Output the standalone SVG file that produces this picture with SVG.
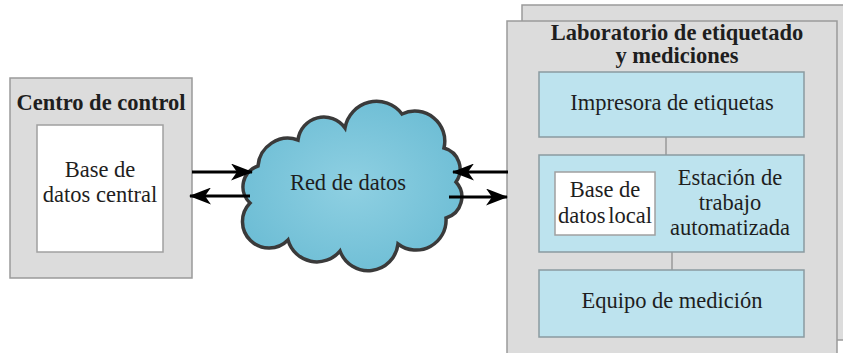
<svg xmlns="http://www.w3.org/2000/svg" width="843" height="353" viewBox="0 0 843 353">
<style>
.t{font-family:'Liberation Serif','Times New Roman',serif;font-size:22.5px;fill:#1e1e1e;text-anchor:middle}
.b{font-weight:bold}
.gray{fill:#dcdcdc;stroke:#9a9a9a;stroke-width:1.5}
.white{fill:#ffffff;stroke:#a0a0a0;stroke-width:1.5}
.blue{fill:#bde3ee;stroke:#8a9aa0;stroke-width:1.5}
.arr{stroke:#000;stroke-width:3;fill:none}
.link{stroke:#9a9a9a;stroke-width:1.5}
</style>
<defs>
<marker id="ah" viewBox="0 0 22 17" refX="21" refY="8.5" markerWidth="22" markerHeight="17" markerUnits="userSpaceOnUse" orient="auto">
<path d="M0,0 L22,8.5 L0,17 L6,8.5 Z" fill="#000"/>
</marker>
<radialGradient id="cg" cx="0.5" cy="0.5" r="0.6">
<stop offset="0" stop-color="#8fd0e2"/>
<stop offset="1" stop-color="#6bbcd4"/>
</radialGradient>
</defs>
<rect width="843" height="353" fill="#ffffff"/>
<g id="centro-control">
<rect class="gray" x="10" y="78" width="182" height="200"/>
<text class="t b" x="101" y="110">Centro de control</text>
</g>
<g id="base-central">
<rect class="white" x="37" y="125" width="126" height="127"/>
<text class="t" x="100" y="177">Base de</text>
<text class="t" x="100" y="202">datos central</text>
</g>
<g id="red-datos">
<path d="M250,203 A22,22 0 0 1 258,166 A30,30 0 0 1 298,140 A26,26 0 0 1 345,128 A32,32 0 0 1 402,114 A30,30 0 0 1 444,148 A22,22 0 0 1 456,182 A22,22 0 0 1 446,218 A30,30 0 0 1 398,244 A30,30 0 0 1 340,251 A30,30 0 0 1 288,240 A26,26 0 0 1 250,203 Z" fill="url(#cg)" stroke="#3a3a3a" stroke-width="3.5"/>
<text class="t" x="348" y="190">Red de datos</text>
</g>
<g id="laboratorio">
<rect class="gray" x="522" y="5" width="330" height="335"/>
<rect class="gray" x="507" y="21" width="330" height="340"/>
<text class="t b" x="677" y="40">Laboratorio de etiquetado</text>
<text class="t b" x="677" y="63">y mediciones</text>
</g>
<g id="connectors">
<line class="arr" x1="192" y1="172" x2="252" y2="172" marker-end="url(#ah)"/>
<line class="arr" x1="250" y1="196" x2="190" y2="196" marker-end="url(#ah)"/>
<line class="arr" x1="508" y1="172" x2="453" y2="172" marker-end="url(#ah)"/>
<line class="arr" x1="449" y1="197" x2="507" y2="197" marker-end="url(#ah)"/>
<line class="link" x1="666" y1="137" x2="666" y2="155"/>
<line class="link" x1="672" y1="252" x2="672" y2="270"/>
</g>
<g id="impresora">
<rect class="blue" x="539" y="72" width="265" height="65"/>
<text class="t" x="672" y="110">Impresora de etiquetas</text>
</g>
<g id="estacion">
<rect class="blue" x="539" y="155" width="265" height="97"/>
<text class="t" x="730" y="185">Estación de</text>
<text class="t" x="730" y="210">trabajo</text>
<text class="t" x="730" y="235">automatizada</text>
</g>
<g id="base-local">
<rect class="white" x="555" y="172" width="100" height="63"/>
<text class="t" x="605" y="197">Base de</text>
<text class="t" x="605" y="223" word-spacing="-3">datos local</text>
</g>
<g id="equipo">
<rect class="blue" x="539" y="270" width="265" height="67"/>
<text class="t" x="672" y="308">Equipo de medición</text>
</g>
</svg>
